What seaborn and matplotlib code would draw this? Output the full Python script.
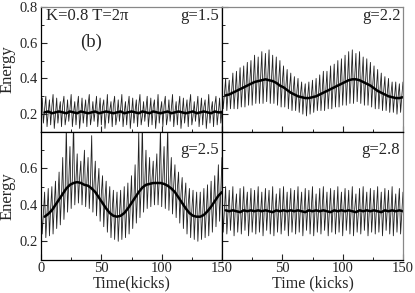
import matplotlib
matplotlib.use("Agg")
import matplotlib.pyplot as plt
import seaborn as sns
import pandas as pd
from matplotlib.ticker import MultipleLocator

# --- Data (energy per kick) ---
kicks = list(range(151))
avg_kicks = list(range(3, 151, 3))

energy_g15 = [
    0.22, 0.29, 0.15, 0.23, 0.30, 0.13, 0.21, 0.28, 0.14, 0.24, 0.31, 0.12, 0.20, 0.29, 0.15,
    0.22, 0.27, 0.13, 0.25, 0.30, 0.14, 0.19, 0.28, 0.16, 0.23, 0.31, 0.13, 0.21, 0.27, 0.14,
    0.24, 0.30, 0.12, 0.20, 0.29, 0.15, 0.22, 0.28, 0.13, 0.25, 0.31, 0.14, 0.19, 0.27, 0.16,
    0.23, 0.30, 0.13, 0.21, 0.29, 0.14, 0.24, 0.28, 0.12, 0.20, 0.31, 0.15, 0.22, 0.27, 0.13,
    0.25, 0.30, 0.14, 0.19, 0.28, 0.16, 0.23, 0.31, 0.13, 0.21, 0.27, 0.14, 0.24, 0.30, 0.12,
    0.20, 0.29, 0.15, 0.22, 0.28, 0.13, 0.25, 0.31, 0.14, 0.19, 0.27, 0.16, 0.23, 0.30, 0.13,
    0.21, 0.29, 0.14, 0.24, 0.28, 0.12, 0.20, 0.31, 0.15, 0.22, 0.27, 0.13, 0.25, 0.30, 0.14,
    0.19, 0.28, 0.16, 0.23, 0.31, 0.13, 0.21, 0.27, 0.14, 0.24, 0.30, 0.12, 0.20, 0.29, 0.15,
    0.22, 0.28, 0.13, 0.25, 0.31, 0.14, 0.19, 0.27, 0.16, 0.23, 0.30, 0.13, 0.21, 0.29, 0.14,
    0.24, 0.28, 0.12, 0.20, 0.31, 0.15, 0.22, 0.27, 0.13, 0.25, 0.30, 0.14, 0.21, 0.29, 0.15,
    0.22,
]
avg_g15 = [
    0.21, 0.215, 0.205, 0.21, 0.215, 0.21, 0.205, 0.215, 0.21, 0.205,
    0.215, 0.21, 0.205, 0.21, 0.215, 0.205, 0.21, 0.215, 0.21, 0.205,
    0.21, 0.215, 0.205, 0.21, 0.215, 0.21, 0.205, 0.215, 0.21, 0.205,
    0.215, 0.21, 0.205, 0.21, 0.215, 0.205, 0.21, 0.215, 0.21, 0.205,
    0.21, 0.215, 0.205, 0.21, 0.215, 0.21, 0.205, 0.215, 0.21, 0.21,
]

energy_g22 = [
    0.38, 0.23, 0.31, 0.40, 0.22, 0.32, 0.39, 0.23, 0.33, 0.43, 0.23, 0.33, 0.44, 0.23, 0.35,
    0.46, 0.24, 0.35, 0.47, 0.24, 0.37, 0.49, 0.25, 0.37, 0.50, 0.25, 0.39, 0.53, 0.26, 0.39,
    0.52, 0.26, 0.40, 0.55, 0.26, 0.41, 0.54, 0.27, 0.41, 0.56, 0.26, 0.40, 0.53, 0.26, 0.40,
    0.52, 0.25, 0.39, 0.50, 0.24, 0.38, 0.47, 0.24, 0.36, 0.45, 0.23, 0.35, 0.43, 0.22, 0.33,
    0.41, 0.22, 0.32, 0.40, 0.21, 0.31, 0.38, 0.20, 0.31, 0.37, 0.19, 0.30, 0.38, 0.20, 0.30,
    0.39, 0.21, 0.30, 0.40, 0.22, 0.31, 0.42, 0.22, 0.32, 0.44, 0.22, 0.33, 0.44, 0.23, 0.34,
    0.47, 0.23, 0.35, 0.48, 0.24, 0.36, 0.50, 0.24, 0.37, 0.51, 0.25, 0.38, 0.53, 0.25, 0.39,
    0.55, 0.26, 0.40, 0.56, 0.26, 0.41, 0.54, 0.27, 0.41, 0.55, 0.26, 0.40, 0.52, 0.25, 0.39,
    0.51, 0.25, 0.38, 0.49, 0.24, 0.37, 0.47, 0.23, 0.35, 0.45, 0.23, 0.34, 0.43, 0.22, 0.33,
    0.41, 0.22, 0.32, 0.40, 0.21, 0.31, 0.38, 0.21, 0.30, 0.38, 0.20, 0.30, 0.37, 0.21, 0.30,
    0.38,
]
avg_g22 = [
    0.305, 0.31, 0.32, 0.33, 0.34, 0.35, 0.36, 0.37, 0.38, 0.385,
    0.39, 0.395, 0.39, 0.385, 0.375, 0.36, 0.35, 0.335, 0.32, 0.31,
    0.30, 0.295, 0.29, 0.29, 0.295, 0.30, 0.31, 0.32, 0.33, 0.34,
    0.35, 0.36, 0.37, 0.38, 0.39, 0.395, 0.395, 0.39, 0.38, 0.37,
    0.36, 0.345, 0.33, 0.32, 0.31, 0.30, 0.295, 0.29, 0.29, 0.295,
]

energy_g25 = [
    0.44, 0.24, 0.35, 0.47, 0.22, 0.36, 0.49, 0.23, 0.38, 0.50, 0.24, 0.40, 0.53, 0.27, 0.42,
    0.58, 0.29, 0.45, 0.66, 0.32, 0.47, 0.84, 0.36, 0.52, 0.72, 0.38, 0.55, 0.86, 0.40, 0.54,
    0.68, 0.41, 0.55, 0.64, 0.40, 0.56, 0.70, 0.39, 0.53, 0.66, 0.38, 0.53, 0.78, 0.36, 0.52,
    0.64, 0.34, 0.50, 0.60, 0.31, 0.46, 0.56, 0.28, 0.43, 0.53, 0.25, 0.40, 0.50, 0.22, 0.37,
    0.48, 0.21, 0.36, 0.47, 0.20, 0.35, 0.48, 0.21, 0.36, 0.50, 0.22, 0.37, 0.52, 0.24, 0.40,
    0.56, 0.27, 0.43, 0.62, 0.30, 0.46, 0.80, 0.33, 0.49, 0.86, 0.36, 0.52, 0.70, 0.38, 0.53,
    0.66, 0.39, 0.54, 0.64, 0.40, 0.55, 0.68, 0.40, 0.54, 0.82, 0.39, 0.55, 0.72, 0.38, 0.54,
    0.84, 0.37, 0.53, 0.66, 0.35, 0.51, 0.62, 0.33, 0.49, 0.58, 0.30, 0.46, 0.55, 0.27, 0.43,
    0.52, 0.24, 0.40, 0.49, 0.22, 0.37, 0.48, 0.21, 0.36, 0.47, 0.20, 0.35, 0.47, 0.21, 0.35,
    0.49, 0.22, 0.36, 0.51, 0.23, 0.38, 0.53, 0.25, 0.41, 0.56, 0.28, 0.44, 0.62, 0.31, 0.47,
    0.66,
]
avg_g25 = [
    0.335, 0.35, 0.37, 0.40, 0.43, 0.46, 0.49, 0.51, 0.52, 0.525,
    0.52, 0.51, 0.505, 0.49, 0.47, 0.44, 0.41, 0.38, 0.355, 0.34,
    0.335, 0.34, 0.355, 0.38, 0.41, 0.44, 0.47, 0.495, 0.51, 0.515,
    0.52, 0.52, 0.52, 0.515, 0.505, 0.49, 0.47, 0.44, 0.41, 0.38,
    0.355, 0.34, 0.335, 0.335, 0.345, 0.365, 0.39, 0.42, 0.45, 0.47,
]

energy_g28 = [
    0.47, 0.25, 0.38, 0.50, 0.24, 0.36, 0.48, 0.26, 0.37, 0.50, 0.23, 0.38, 0.46, 0.25, 0.36,
    0.49, 0.24, 0.37, 0.50, 0.26, 0.39, 0.47, 0.23, 0.36, 0.49, 0.25, 0.37, 0.48, 0.24, 0.38,
    0.50, 0.25, 0.36, 0.47, 0.23, 0.37, 0.49, 0.26, 0.38, 0.48, 0.24, 0.36, 0.50, 0.23, 0.37,
    0.46, 0.25, 0.38, 0.49, 0.24, 0.36, 0.50, 0.26, 0.37, 0.47, 0.23, 0.38, 0.49, 0.25, 0.36,
    0.48, 0.24, 0.37, 0.50, 0.25, 0.38, 0.47, 0.23, 0.36, 0.49, 0.26, 0.37, 0.48, 0.24, 0.38,
    0.50, 0.23, 0.36, 0.46, 0.25, 0.37, 0.49, 0.24, 0.38, 0.50, 0.26, 0.36, 0.47, 0.23, 0.37,
    0.49, 0.25, 0.38, 0.48, 0.24, 0.36, 0.50, 0.25, 0.37, 0.47, 0.23, 0.38, 0.49, 0.26, 0.36,
    0.48, 0.24, 0.37, 0.50, 0.23, 0.38, 0.46, 0.25, 0.36, 0.49, 0.24, 0.37, 0.50, 0.26, 0.38,
    0.47, 0.23, 0.36, 0.49, 0.25, 0.37, 0.48, 0.24, 0.38, 0.50, 0.25, 0.36, 0.47, 0.23, 0.37,
    0.49, 0.26, 0.38, 0.48, 0.24, 0.36, 0.50, 0.23, 0.37, 0.46, 0.25, 0.38, 0.49, 0.24, 0.36,
    0.47,
]
avg_g28 = [
    0.37, 0.365, 0.37, 0.365, 0.36, 0.37, 0.365, 0.37, 0.365, 0.37,
    0.365, 0.37, 0.365, 0.36, 0.37, 0.365, 0.37, 0.365, 0.37, 0.365,
    0.37, 0.365, 0.36, 0.37, 0.365, 0.37, 0.365, 0.37, 0.365, 0.36,
    0.37, 0.365, 0.37, 0.365, 0.37, 0.365, 0.36, 0.37, 0.365, 0.37,
    0.365, 0.37, 0.365, 0.36, 0.37, 0.365, 0.37, 0.365, 0.37, 0.365,
]

g_labels = ["g=1.5", "g=2.2", "g=2.5", "g=2.8"]

# --- Styling ---
sns.set_style("ticks")
plt.rcParams.update({
    "font.family": ["Liberation Serif", "DejaVu Serif"],
    "axes.linewidth": 0.9,
    "xtick.direction": "in",
    "ytick.direction": "in",
})

fig = plt.figure(figsize=(4.15, 2.93), dpi=100)
x0, xm, x1 = 41 / 415, 222 / 415, 403 / 415
y0, ym, y1 = 1 - 259.5 / 293, 1 - 132 / 293, 1 - 7 / 293
w, h_top, h_bot = xm - x0, y1 - ym, ym - y0

ax_tl = fig.add_axes([x0, ym, w, h_top])
ax_tr = fig.add_axes([xm, ym, x1 - xm, h_top])
ax_bl = fig.add_axes([x0, y0, w, h_bot])
ax_br = fig.add_axes([xm, y0, x1 - xm, h_bot])

panels = [
    (ax_tl, energy_g15, avg_g15, g_labels[0]),
    (ax_tr, energy_g22, avg_g22, g_labels[1]),
    (ax_bl, energy_g25, avg_g25, g_labels[2]),
    (ax_br, energy_g28, avg_g28, g_labels[3]),
]

for ax, raw, avg, lab in panels:
    sns.lineplot(x=kicks, y=raw, ax=ax, color="#222222", linewidth=0.6)
    sns.lineplot(x=avg_kicks, y=avg, ax=ax, color="black", linewidth=1.8)
    ax.set_xlim(0, 150)
    ax.set_ylim(0.1, 0.8)
    ax.xaxis.set_major_locator(MultipleLocator(50))
    ax.xaxis.set_minor_locator(MultipleLocator(25))
    ax.yaxis.set_major_locator(MultipleLocator(0.2))
    ax.yaxis.set_minor_locator(MultipleLocator(0.1))
    ax.tick_params(which="major", length=4, width=0.8, labelsize=10.5, pad=2)
    ax.tick_params(which="minor", length=2.5, width=0.7)
    ax.set_xlabel("")
    ax.set_ylabel("")
    for s in ax.spines.values():
        s.set_color("black")
        s.set_linewidth(0.9)
    ty = 0.93 if ax in (ax_tl, ax_tr) else 0.86
    ax.text(0.985, ty, lab, transform=ax.transAxes, ha="right", va="center", fontsize=12)

ax_tr.spines["top"].set_color("#888888")
ax_tl.spines["top"].set_color("#888888")
ax_tr.spines["right"].set_color("#888888")
ax_br.spines["right"].set_color("#888888")

ax_tl.tick_params(labelbottom=False)
ax_tr.tick_params(labelbottom=False, labelleft=False)
ax_br.tick_params(labelleft=False)
ax_bl.set_yticks([0.2, 0.4, 0.6])
ax_br.set_xticks([50, 100, 150])

ax_tl.set_ylabel("Energy", fontsize=12, labelpad=3)
ax_bl.set_ylabel("Energy", fontsize=12, labelpad=3)
ax_bl.set_xlabel("Time(kicks)", fontsize=11.5, labelpad=0)
ax_br.set_xlabel("Time (kicks)", fontsize=11.5, labelpad=0)

ax_tl.text(0.03, 0.93, "K=0.8 T=2\u03c0", transform=ax_tl.transAxes,
           ha="left", va="center", fontsize=12)
ax_tl.text(0.276, 0.72, "(b)", transform=ax_tl.transAxes,
           ha="center", va="center", fontsize=13.5)

fig.savefig("out.png", dpi=100)
